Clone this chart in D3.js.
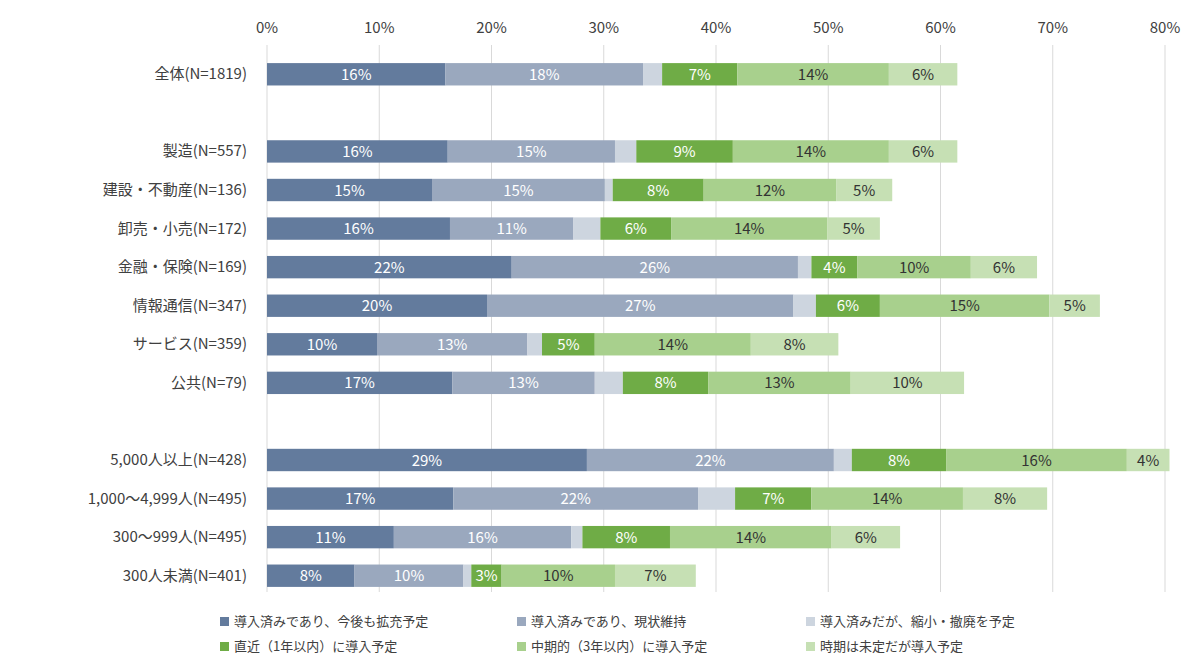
<!DOCTYPE html>
<html><head><meta charset="utf-8">
<script src="https://cdn.jsdelivr.net/npm/d3@7"></script>
<style>body{margin:0;background:#fff}text{font-family:"Noto Sans CJK JP","Noto Sans",sans-serif}</style>
</head><body><svg id="chart" width="1200" height="671"></svg>
<script>
const categories = ["全体(N=1819)", "", "製造(N=557)", "建設・不動産(N=136)", "卸売・小売(N=172)", "金融・保険(N=169)",
  "情報通信(N=347)", "サービス(N=359)", "公共(N=79)", "", "5,000人以上(N=428)", "1,000～4,999人(N=495)",
  "300～999人(N=495)", "300人未満(N=401)"];
const seriesNames = ["導入済みであり、今後も拡充予定", "導入済みであり、現状維持", "導入済みだが、縮小・撤廃を予定",
  "直近（1年以内）に導入予定", "中期的（3年以内）に導入予定", "時期は未定だが導入予定"];
const expand = [15.9, null, 16.1, 14.7, 16.3, 21.8, 19.6, 9.8, 16.5, null, 28.5, 16.6, 11.3, 7.8];
const keep = [17.6, null, 14.9, 15.4, 11.0, 25.5, 27.3, 13.4, 12.7, null, 22.0, 21.8, 15.8, 9.7];
const shrink = [1.7, null, 1.9, 0.7, 2.4, 1.2, 2.0, 1.3, 2.5, null, 1.6, 3.3, 1.0, 0.7];
const soon = [6.7, null, 8.6, 8.1, 6.3, 4.1, 5.7, 4.7, 7.6, null, 8.4, 6.8, 7.8, 2.7];
const mid = [13.5, null, 13.9, 11.8, 13.9, 10.1, 15.1, 13.9, 12.7, null, 16.1, 13.5, 14.4, 10.1];
const undecided = [6.1, null, 6.1, 5.0, 4.7, 5.9, 4.5, 7.8, 10.1, null, 3.8, 7.5, 6.1, 7.2];
const ticks = [0, 10, 20, 30, 40, 50, 60, 70, 80];

const series = [expand, keep, shrink, soon, mid, undecided];
const colors = ["#637b9d", "#9aa8be", "#cdd5df", "#6fac46", "#a8d08d", "#c6e0b4"];
const labelColors = ["#fff", "#fff", null, "#fff", "#333", "#333"];

const svg = d3.select("#chart");
const x = d3.scaleLinear().domain([0, 80]).range([267, 1165]);
const y = d3.scaleBand().domain(d3.range(categories.length)).range([55, 595]).paddingInner(0.42).paddingOuter(0.21);

// grid
svg.append("g").selectAll("line").data(ticks).join("line")
  .attr("x1", d => x(d)).attr("x2", d => x(d)).attr("y1", 45).attr("y2", 592)
  .attr("stroke", "#d9d9d9");
svg.append("g").selectAll("text").data(ticks).join("text")
  .attr("x", d => x(d)).attr("y", 33).attr("text-anchor", "middle")
  .attr("font-size", 15).attr("fill", "#404040").text(d => d + "%");

// category labels
svg.append("g").selectAll("text").data(categories).join("text")
  .attr("x", 247).attr("y", (d, i) => y(i) + y.bandwidth() / 2 + 5)
  .attr("text-anchor", "end").attr("font-size", 15).attr("fill", "#404040").text(d => d);

// bars
categories.forEach((c, i) => {
  if (expand[i] == null) return;
  let acc = 0;
  series.forEach((s, k) => {
    const v = s[i];
    const g = svg.append("g");
    g.append("rect").attr("x", x(acc)).attr("y", y(i)).attr("width", x(acc + v) - x(acc))
      .attr("height", y.bandwidth()).attr("fill", colors[k]);
    if (labelColors[k] && v >= 2.5) {
      g.append("text").attr("x", x(acc + v / 2)).attr("y", y(i) + y.bandwidth() / 2 + 5.5)
        .attr("text-anchor", "middle").attr("font-size", 15).attr("fill", labelColors[k])
        .text(Math.round(v) + "%");
    }
    acc += v;
  });
});

// legend
const lx = [220, 517, 806];
const leg = svg.append("g").selectAll("g").data(seriesNames).join("g")
  .attr("transform", (d, i) => `translate(${lx[i % 3]},${i < 3 ? 622 : 647})`);
leg.append("rect").attr("x", 0).attr("y", -5).attr("width", 9).attr("height", 9).attr("fill", (d, i) => colors[i]);
leg.append("text").attr("x", 14).attr("y", 4).attr("font-size", 13).attr("fill", "#404040").text(d => d);
</script></body></html>
